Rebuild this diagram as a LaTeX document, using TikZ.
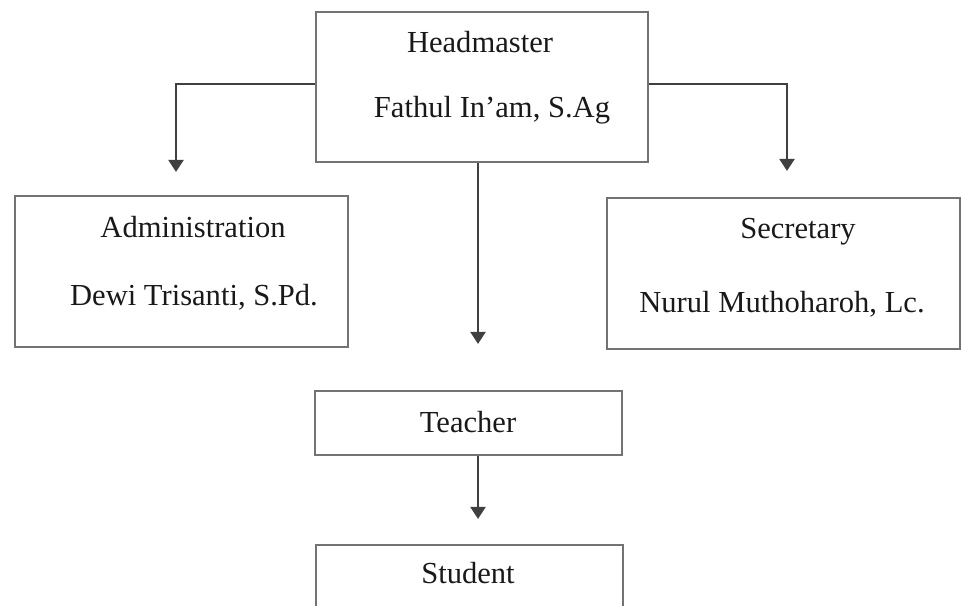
\documentclass[tikz,border=0pt]{standalone}
\usepackage{fontspec}
\setmainfont{Liberation Serif}
\usetikzlibrary{arrows.meta}

% one pixel of the picture
\def\px{0.02cm}

\tikzset{
  box/.style={draw=black!55, line width=1.2pt, inner sep=0pt},
  txt/.style={font=\fontsize{17.4}{20}\selectfont, text=black!90, inner sep=0pt, anchor=base},
  arr/.style={draw=black!75, line width=1.2pt, -{Triangle[width=15*\px, length=12*\px]}}
}

\begin{document}
\begin{tikzpicture}[x=\px, y=-\px]

  % Rahmen des Bildes
  \clip (0,0) rectangle (962,605);

  % Kasten oben: Headmaster
  \node[box, minimum width=332*\px, minimum height=150*\px] (head) at (482,87) {};
  \node[txt] (headT) at (480,52) {Headmaster};
  \node[txt] (headN) at (492,117) {Fathul In'am, S.Ag};

  % linker Kasten
  \node[box, minimum width=333*\px, minimum height=151*\px] (admin) at (181.5,271.5) {};
  \node[txt] (adminT) at (193,237) {Administration};
  \node[txt] (adminN) at (194,305) {Dewi Trisanti, S.Pd.};

  % rechter Kasten
  \node[box, minimum width=353*\px, minimum height=151*\px] (secr) at (783.5,273.5) {};
  \node[txt] (secrT) at (798,238) {Secretary};
  \node[txt] (secrN) at (782,312) {Nurul Muthoharoh, Lc.};

  % Teacher und Student
  \node[box, minimum width=307*\px, minimum height=64*\px] (teach) at (468.5,423) {};
  \node[txt] (teachT) at (468,432) {Teacher};
  \node[box, minimum width=307*\px, minimum height=120*\px] (stud) at (469.5,605) {};
  \node[txt] (studT) at (468,583) {Student};

  % Pfeile
  \draw[arr, shorten >=23*\px] ([yshift=3*\px]head.west) -| ([xshift=-5.5*\px]admin.north);
  \draw[arr, shorten >=26*\px] ([yshift=3*\px]head.east) -| ([xshift=3.5*\px]secr.north);
  \draw[arr, shorten >=46*\px] ([xshift=-4*\px]head.south) -- ([xshift=-4*\px]head.south |- teach.north);
  \draw[arr, shorten >=25*\px] ([xshift=-4*\px]teach.south -| head.south) -- ([xshift=-4*\px]stud.north -| head.south);

\end{tikzpicture}
\end{document}
